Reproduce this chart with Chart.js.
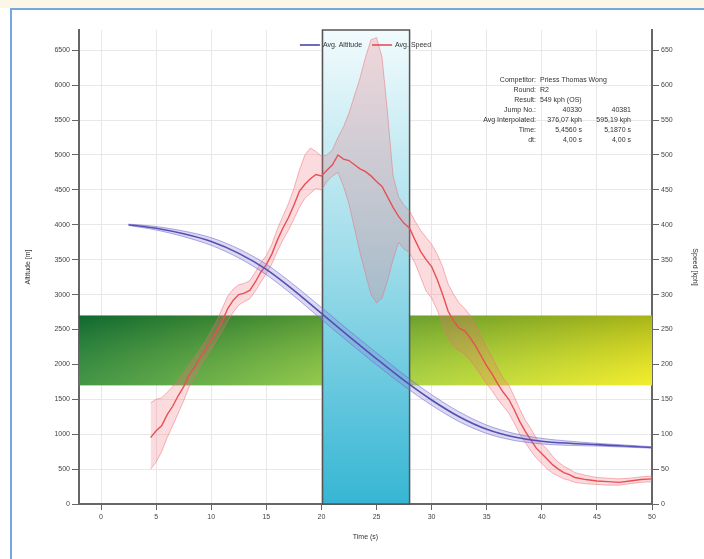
<!DOCTYPE html>
<html>
<head>
<meta charset="utf-8">
<script src="https://cdn.jsdelivr.net/npm/chart.js@4.4.0/dist/chart.umd.min.js"></script>
<style>
html, body { margin: 0; padding: 0; background: #fff; }
#frame { position: absolute; left: 0; top: 0; width: 704px; height: 559px; overflow: hidden; }
#strip { position: absolute; left: 0; top: 0; width: 704px; height: 8px; background: #fcf6e6; }
#topline { position: absolute; left: 10px; top: 8px; width: 694px; height: 2px; background: #74a9df; }
#leftline { position: absolute; left: 10px; top: 8px; width: 2px; height: 551px; background: #74a9df; }
#wrap { position: absolute; left: 0; top: 0; width: 704px; height: 559px; }
</style>
</head>
<body>
<div id="frame">
  <div id="strip"></div><div id="topline"></div><div id="leftline"></div>
  <div id="wrap"><canvas id="myChart"></canvas></div>
</div>
<script>
// altitude (m) against time (s)
const altTime = [2.5, 5, 7.5, 10, 12.5, 15, 17.5, 20, 22.5, 25, 27.5, 30, 32.5, 35, 37.5, 40, 42.5, 45, 47.5, 50];
const altMean = [4000, 3950, 3870, 3760, 3590, 3360, 3060, 2730, 2400, 2080, 1770, 1490, 1250, 1070, 960, 900, 870, 850, 830, 810];
const altLow  = [3990, 3925, 3830, 3705, 3525, 3285, 2980, 2645, 2315, 1995, 1690, 1415, 1180, 1010, 910, 860, 840, 830, 815, 800];
const altHigh = [4010, 3975, 3910, 3815, 3655, 3435, 3140, 2815, 2485, 2165, 1850, 1565, 1320, 1130, 1010, 940, 900, 870, 845, 820];

// speed (kph) against time (s)
const spdTime = [4.5, 5, 5.5, 6, 6.5, 7, 7.5, 8, 8.5, 9, 9.5, 10, 10.5, 11, 11.5, 12, 12.5, 13, 13.5, 14, 14.5, 15,
  15.5, 16, 16.5, 17, 17.5, 18, 18.5, 19, 19.5, 20, 20.5, 21, 21.5, 22, 22.5, 23, 23.5, 24, 24.5, 25, 25.5, 26,
  26.5, 27, 27.5, 28, 28.5, 29, 29.5, 30, 30.5, 31, 31.5, 32, 32.5, 33, 33.5, 34, 34.5, 35, 35.5, 36, 36.5, 37,
  37.5, 38, 38.5, 39, 39.5, 40, 40.5, 41, 41.5, 42, 42.5, 43, 44, 45, 46, 47, 48, 49, 50];
const spdMean = [95, 105, 112, 128, 140, 155, 168, 185, 196, 210, 222, 235, 248, 262, 280, 292, 300, 302, 306, 318, 332, 343,
  358, 378, 395, 410, 428, 448, 458, 466, 472, 470, 478, 486, 500, 494, 492, 486, 480, 476, 470, 462, 455, 440,
  425, 412, 402, 395, 378, 362, 350, 340, 322, 300, 276, 262, 252, 248, 238, 226, 212, 198, 186, 172, 160, 150,
  135, 118, 104, 92, 80, 72, 64, 56, 50, 45, 42, 38, 35, 33, 32, 31, 33, 35, 36];
const spdLow = [50, 60, 75, 95, 112, 130, 148, 168, 182, 198, 210, 222, 235, 248, 262, 275, 285, 290, 294, 305, 318, 330,
  344, 362, 378, 392, 408, 425, 438, 445, 452, 450, 462, 470, 475, 455, 430, 395, 360, 330, 300, 288, 295, 320,
  350, 375, 365, 360, 345, 325, 305, 295, 278, 258, 238, 226, 220, 215, 206, 196, 184, 172, 162, 150, 140, 130,
  116, 100, 88, 76, 66, 58, 50, 44, 40, 36, 34, 31, 29, 28, 27, 27, 29, 31, 32];
const spdHigh = [145, 150, 152, 160, 168, 178, 188, 200, 210, 222, 234, 248, 262, 280, 298, 308, 314, 316, 320, 332, 346, 356,
  372, 394, 412, 430, 452, 478, 500, 510, 505, 498, 500, 507, 525, 540, 560, 585, 610, 640, 665, 668, 640, 560,
  470, 440, 428, 420, 405, 392, 382, 372, 358, 340, 315, 300, 288, 280, 270, 256, 240, 224, 210, 194, 180, 170,
  154, 136, 120, 108, 94, 86, 78, 68, 60, 54, 50, 45, 41, 38, 37, 36, 37, 39, 40];

const timeTicks = [0, 5, 10, 15, 20, 25, 30, 35, 40, 45, 50];
const altTicks = [0, 500, 1000, 1500, 2000, 2500, 3000, 3500, 4000, 4500, 5000, 5500, 6000, 6500];
const spdTicks = [0, 50, 100, 150, 200, 250, 300, 350, 400, 450, 500, 550, 600, 650];

// target altitude band and the highlighted time window
const bandAlt = [1700, 2700];
const windowTime = [20.1, 28.0];

const infoLabels = ['Competitor:', 'Round:', 'Result:', 'Jump No.:', 'Avg Interpolated:', 'Time:', 'dt:'];
const infoCol1 = ['Priess Thomas Wong', 'R2', '549 kph (OS)', '40330', '376,07 kph', '5,4560 s', '4,00 s'];
const infoCol2 = ['', '', '', '40381', '595,19 kph', '5,1870 s', '4,00 s'];

const pts = (xs, ys) => xs.map((x, i) => ({x: x, y: ys[i]}));

Chart.defaults.font.family = '"Liberation Sans", Arial, sans-serif';
Chart.defaults.font.size = 7;
Chart.defaults.color = '#444';

const overlays = {
  id: 'overlays',
  beforeDatasetsDraw(chart) {
    const {ctx, chartArea: a, scales: {x, y}} = chart;
    const yt = y.getPixelForValue(bandAlt[1]);
    const yb = y.getPixelForValue(bandAlt[0]);
    ctx.save();
    let g = ctx.createLinearGradient(a.left, 0, a.right, 0);
    g.addColorStop(0, '#157b3b');
    g.addColorStop(0.45, '#7fc142');
    g.addColorStop(1, '#f0e81a');
    ctx.fillStyle = g;
    ctx.fillRect(a.left, yt, a.right - a.left, yb - yt);
    g = ctx.createLinearGradient(0, yt, 0, yb);
    g.addColorStop(0, 'rgba(0,60,20,0.3)');
    g.addColorStop(1, 'rgba(255,255,120,0.2)');
    ctx.fillStyle = g;
    ctx.fillRect(a.left, yt, a.right - a.left, yb - yt);

    const x0 = x.getPixelForValue(windowTime[0]);
    const x1 = x.getPixelForValue(windowTime[1]);
    g = ctx.createLinearGradient(0, a.top, 0, a.bottom);
    g.addColorStop(0, '#f2fbfd');
    g.addColorStop(0.5, '#9bdbe9');
    g.addColorStop(1, '#36b6d4');
    ctx.fillStyle = g;
    ctx.fillRect(x0, a.top, x1 - x0, a.bottom - a.top);
    ctx.strokeStyle = '#555';
    ctx.lineWidth = 1.5;
    ctx.strokeRect(x0, a.top, x1 - x0, a.bottom - a.top);
    ctx.restore();
  },
  afterDatasetsDraw(chart) {
    const {ctx, chartArea: a} = chart;
    ctx.save();
    ctx.font = '7px "Liberation Sans", Arial, sans-serif';
    ctx.textBaseline = 'middle';
    // legend
    const items = chart.data.datasets.filter(d => d.showInLegend);
    const widths = items.map(d => 23 + ctx.measureText(d.label).width);
    const gap = 10;
    let lx = (a.left + a.right) / 2 - (widths.reduce((s, w) => s + w, 0) + gap * (items.length - 1)) / 2;
    const ly = a.top + 15;
    items.forEach((d, i) => {
      ctx.strokeStyle = d.borderColor;
      ctx.lineWidth = 1.5;
      ctx.beginPath();
      ctx.moveTo(lx, ly);
      ctx.lineTo(lx + 20, ly);
      ctx.stroke();
      ctx.fillStyle = '#333';
      ctx.textAlign = 'left';
      ctx.fillText(d.label, lx + 23, ly);
      lx += widths[i] + gap;
    });
    // info block
    infoLabels.forEach((lab, i) => {
      const ty = 80 + i * 10;
      ctx.fillStyle = '#333';
      ctx.textAlign = 'right';
      ctx.fillText(lab, a.right - 116, ty);
      if (infoCol2[i] === '') {
        ctx.textAlign = 'left';
        ctx.fillText(infoCol1[i], a.right - 112, ty);
      } else {
        ctx.textAlign = 'right';
        ctx.fillText(infoCol1[i], a.right - 70, ty);
        ctx.fillText(infoCol2[i], a.right - 21, ty);
      }
    });
    ctx.restore();
  }
};

const bandLine = (data, axis, color, fill, bg, tension) => ({
  label: '', data: data, yAxisID: axis, borderColor: color, borderWidth: 1,
  backgroundColor: bg, fill: fill, pointRadius: 0, tension: tension, showInLegend: false
});

const plain = v => String(v);

const ctx = document.getElementById('myChart').getContext('2d');
const chart = new Chart(ctx, {
  type: 'line',
  data: {
    datasets: [
      bandLine(pts(altTime, altLow), 'y', 'rgba(110,100,200,0.55)', false, 'transparent', 0.3),
      bandLine(pts(altTime, altHigh), 'y', 'rgba(110,100,200,0.55)', 0, 'rgba(140,130,215,0.3)', 0.3),
      {
        label: 'Avg. Altitude', data: pts(altTime, altMean), yAxisID: 'y',
        borderColor: '#3d3aa6', borderWidth: 1.6, pointRadius: 0, fill: false, tension: 0.3, showInLegend: true
      },
      bandLine(pts(spdTime, spdLow), 'y2', 'rgba(235,110,120,0.5)', false, 'transparent', 0),
      bandLine(pts(spdTime, spdHigh), 'y2', 'rgba(235,110,120,0.5)', 3, 'rgba(240,110,120,0.25)', 0),
      {
        label: 'Avg. Speed', data: pts(spdTime, spdMean), yAxisID: 'y2',
        borderColor: '#e64549', borderWidth: 1.4, pointRadius: 0, fill: false, tension: 0, showInLegend: true
      }
    ]
  },
  options: {
    responsive: true,
    maintainAspectRatio: false,
    animation: false,
    layout: {padding: {top: 30, left: 0, right: 0, bottom: 0}},
    plugins: {legend: {display: false}, tooltip: {enabled: false}},
    scales: {
      x: {
        type: 'linear', min: -2, max: 50,
        afterBuildTicks: s => { s.ticks = timeTicks.map(v => ({value: v})); },
        afterFit: s => { s.height = 55; },
        grid: {color: '#e8e8e8', tickColor: '#666', tickLength: 6},
        border: {color: '#666', width: 2},
        ticks: {color: '#444', padding: 3, maxRotation: 0, autoSkip: false, callback: plain},
        title: {display: true, text: 'Time (s)', color: '#333', padding: {top: 0, bottom: 18}}
      },
      y: {
        type: 'linear', position: 'left', min: 0, max: 6790,
        afterBuildTicks: s => { s.ticks = altTicks.map(v => ({value: v})); },
        afterFit: s => { s.width = 79; },
        grid: {color: '#e8e8e8', tickColor: '#666', tickLength: 7},
        border: {color: '#666', width: 2},
        ticks: {color: '#444', padding: 2, callback: plain},
        title: {display: true, text: 'Altitude [m]', color: '#333', padding: {top: 24, bottom: 0}}
      },
      y2: {
        type: 'linear', position: 'right', min: 0, max: 679,
        afterBuildTicks: s => { s.ticks = spdTicks.map(v => ({value: v})); },
        afterFit: s => { s.width = 52; },
        grid: {drawOnChartArea: false, tickColor: '#666', tickLength: 7},
        border: {color: '#666', width: 2},
        ticks: {color: '#444', padding: 2, callback: plain},
        title: {display: true, text: 'Speed [kph]', color: '#333', padding: {top: 5, bottom: 0}}
      }
    }
  },
  plugins: [overlays]
});
</script>
</body>
</html>
